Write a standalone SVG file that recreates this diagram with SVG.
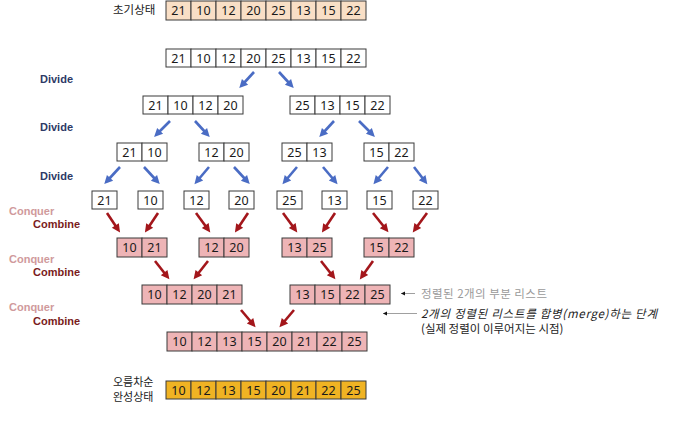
<svg xmlns="http://www.w3.org/2000/svg" width="675" height="421" viewBox="0 0 675 421">
<style>
  .c { stroke: #3a3a3a; stroke-width: 1; }
  .w { fill: #ffffff; }
  .p { fill: #f9dfc6; }
  .k { fill: #eeb4b6; }
  .y { fill: #f0b323; }
  .n { font-family: "Noto Sans", "Noto Sans CJK KR", sans-serif; font-size: 12.5px; fill: #1a1a1a; text-anchor: middle; }
  .lab { font-family: "Liberation Sans", Arial, sans-serif; font-size: 11px; font-weight: bold; }
  .dv { fill: #2d3a66; }
  .cq { fill: #d09a9c; }
  .cb { fill: #7a1c1c; }
  .ko { font-family: "Noto Sans CJK KR", sans-serif; font-size: 11.5px; fill: #222; }
  .ks { font-family: "Noto Sans CJK KR", sans-serif; font-size: 11px; fill: #222; }
  .ba { stroke: #4a6cc4; stroke-width: 2.6; fill: none; marker-end: url(#hb); }
  .ra { stroke: #a3161b; stroke-width: 2.6; fill: none; marker-end: url(#hr); }
  .ta { stroke: #888; stroke-width: 0.8; fill: none; marker-end: url(#ht); }
</style>
<defs>
  <marker id="hb" markerUnits="userSpaceOnUse" markerWidth="10" markerHeight="10" viewBox="0 -5 9 10" refX="3" refY="0" orient="auto">
    <path d="M0,-4.2 L8.5,0 L0,4.2 z" fill="#4a6cc4"/>
  </marker>
  <marker id="hr" markerUnits="userSpaceOnUse" markerWidth="10" markerHeight="10" viewBox="0 -5 9 10" refX="3" refY="0" orient="auto">
    <path d="M0,-4.2 L8.5,0 L0,4.2 z" fill="#a3161b"/>
  </marker>
  <marker id="ht" markerUnits="userSpaceOnUse" markerWidth="6" markerHeight="6" viewBox="0 -3 5 6" refX="4" refY="0" orient="auto">
    <path d="M0,-2 L4,0 L0,2 z" fill="#111"/>
  </marker>
</defs>

<!-- labels -->
<g id="labels">
  <text class="ko" x="113" y="14">초기상태</text>
  <text class="ks" x="113" y="385.5">오름차순</text>
  <text class="ks" x="113" y="400.5">완성상태</text>
  <text class="lab dv" x="40" y="83">Divide</text>
  <text class="lab dv" x="40" y="131">Divide</text>
  <text class="lab dv" x="40" y="180">Divide</text>
  <text class="lab cq" x="9" y="215">Conquer</text>
  <text class="lab cb" x="33" y="228">Combine</text>
  <text class="lab cq" x="9" y="263">Conquer</text>
  <text class="lab cb" x="33" y="276">Combine</text>
  <text class="lab cq" x="9" y="311">Conquer</text>
  <text class="lab cb" x="33" y="325">Combine</text>
</g>

<g id="initial">
  <rect class="c p" x="166" y="1" width="25" height="19"/><rect class="c p" x="191" y="1" width="25" height="19"/><rect class="c p" x="216" y="1" width="25" height="19"/><rect class="c p" x="241" y="1" width="25" height="19"/><rect class="c p" x="266" y="1" width="25" height="19"/><rect class="c p" x="291" y="1" width="25" height="19"/><rect class="c p" x="316" y="1" width="25" height="19"/><rect class="c p" x="341" y="1" width="25" height="19"/>
  <text class="n" x="178.5" y="15">21</text><text class="n" x="203.5" y="15">10</text><text class="n" x="228.5" y="15">12</text><text class="n" x="253.5" y="15">20</text><text class="n" x="278.5" y="15">25</text><text class="n" x="303.5" y="15">13</text><text class="n" x="328.5" y="15">15</text><text class="n" x="353.5" y="15">22</text>
</g>

<g id="list8">
  <rect class="c w" x="166" y="49" width="25" height="18"/><rect class="c w" x="191" y="49" width="25" height="18"/><rect class="c w" x="216" y="49" width="25" height="18"/><rect class="c w" x="241" y="49" width="25" height="18"/><rect class="c w" x="266" y="49" width="25" height="18"/><rect class="c w" x="291" y="49" width="25" height="18"/><rect class="c w" x="316" y="49" width="25" height="18"/><rect class="c w" x="341" y="49" width="25" height="18"/>
  <text class="n" x="178.5" y="62.5">21</text><text class="n" x="203.5" y="62.5">10</text><text class="n" x="228.5" y="62.5">12</text><text class="n" x="253.5" y="62.5">20</text><text class="n" x="278.5" y="62.5">25</text><text class="n" x="303.5" y="62.5">13</text><text class="n" x="328.5" y="62.5">15</text><text class="n" x="353.5" y="62.5">22</text>
</g>

<g id="list4a">
  <rect class="c w" x="143" y="96" width="25" height="18"/><rect class="c w" x="168" y="96" width="25" height="18"/><rect class="c w" x="193" y="96" width="25" height="18"/><rect class="c w" x="218" y="96" width="25" height="18"/>
  <text class="n" x="155.5" y="109.5">21</text><text class="n" x="180.5" y="109.5">10</text><text class="n" x="205.5" y="109.5">12</text><text class="n" x="230.5" y="109.5">20</text>
</g>
<g id="list4b">
  <rect class="c w" x="290" y="96" width="25" height="18"/><rect class="c w" x="315" y="96" width="25" height="18"/><rect class="c w" x="340" y="96" width="25" height="18"/><rect class="c w" x="365" y="96" width="25" height="18"/>
  <text class="n" x="302.5" y="109.5">25</text><text class="n" x="327.5" y="109.5">13</text><text class="n" x="352.5" y="109.5">15</text><text class="n" x="377.5" y="109.5">22</text>
</g>

<g id="list2a">
  <rect class="c w" x="117" y="143" width="25" height="18"/><rect class="c w" x="142" y="143" width="25" height="18"/>
  <text class="n" x="129.5" y="156.5">21</text><text class="n" x="154.5" y="156.5">10</text>
</g>
<g id="list2b">
  <rect class="c w" x="199" y="143" width="25" height="18"/><rect class="c w" x="224" y="143" width="25" height="18"/>
  <text class="n" x="211.5" y="156.5">12</text><text class="n" x="236.5" y="156.5">20</text>
</g>
<g id="list2c">
  <rect class="c w" x="282" y="143" width="25" height="18"/><rect class="c w" x="307" y="143" width="25" height="18"/>
  <text class="n" x="294.5" y="156.5">25</text><text class="n" x="319.5" y="156.5">13</text>
</g>
<g id="list2d">
  <rect class="c w" x="364" y="143" width="25" height="18"/><rect class="c w" x="389" y="143" width="25" height="18"/>
  <text class="n" x="376.5" y="156.5">15</text><text class="n" x="401.5" y="156.5">22</text>
</g>

<g id="single1"><rect class="c w" x="92" y="191" width="25" height="18"/><text class="n" x="104.5" y="204.5">21</text></g>
<g id="single2"><rect class="c w" x="138" y="191" width="25" height="18"/><text class="n" x="150.5" y="204.5">10</text></g>
<g id="single3"><rect class="c w" x="184" y="191" width="25" height="18"/><text class="n" x="196.5" y="204.5">12</text></g>
<g id="single4"><rect class="c w" x="229" y="191" width="25" height="18"/><text class="n" x="241.5" y="204.5">20</text></g>
<g id="single5"><rect class="c w" x="277" y="191" width="25" height="18"/><text class="n" x="289.5" y="204.5">25</text></g>
<g id="single6"><rect class="c w" x="322" y="191" width="25" height="18"/><text class="n" x="334.5" y="204.5">13</text></g>
<g id="single7"><rect class="c w" x="367" y="191" width="25" height="18"/><text class="n" x="379.5" y="204.5">15</text></g>
<g id="single8"><rect class="c w" x="413" y="191" width="25" height="18"/><text class="n" x="425.5" y="204.5">22</text></g>

<g id="merge2a">
  <rect class="c k" x="117" y="238" width="25" height="19"/><rect class="c k" x="142" y="238" width="25" height="19"/>
  <text class="n" x="129.5" y="252">10</text><text class="n" x="154.5" y="252">21</text>
</g>
<g id="merge2b">
  <rect class="c k" x="199" y="238" width="25" height="19"/><rect class="c k" x="224" y="238" width="25" height="19"/>
  <text class="n" x="211.5" y="252">12</text><text class="n" x="236.5" y="252">20</text>
</g>
<g id="merge2c">
  <rect class="c k" x="282" y="238" width="25" height="19"/><rect class="c k" x="307" y="238" width="25" height="19"/>
  <text class="n" x="294.5" y="252">13</text><text class="n" x="319.5" y="252">25</text>
</g>
<g id="merge2d">
  <rect class="c k" x="364" y="238" width="25" height="19"/><rect class="c k" x="389" y="238" width="25" height="19"/>
  <text class="n" x="376.5" y="252">15</text><text class="n" x="401.5" y="252">22</text>
</g>

<g id="merge4a">
  <rect class="c k" x="142" y="285" width="25" height="19"/><rect class="c k" x="167" y="285" width="25" height="19"/><rect class="c k" x="192" y="285" width="25" height="19"/><rect class="c k" x="217" y="285" width="25" height="19"/>
  <text class="n" x="154.5" y="299">10</text><text class="n" x="179.5" y="299">12</text><text class="n" x="204.5" y="299">20</text><text class="n" x="229.5" y="299">21</text>
</g>
<g id="merge4b">
  <rect class="c k" x="290" y="285" width="25" height="19"/><rect class="c k" x="315" y="285" width="25" height="19"/><rect class="c k" x="340" y="285" width="25" height="19"/><rect class="c k" x="365" y="285" width="25" height="19"/>
  <text class="n" x="302.5" y="299">13</text><text class="n" x="327.5" y="299">15</text><text class="n" x="352.5" y="299">22</text><text class="n" x="377.5" y="299">25</text>
</g>

<g id="merge8">
  <rect class="c k" x="167" y="332" width="25" height="19"/><rect class="c k" x="192" y="332" width="25" height="19"/><rect class="c k" x="217" y="332" width="25" height="19"/><rect class="c k" x="242" y="332" width="25" height="19"/><rect class="c k" x="267" y="332" width="25" height="19"/><rect class="c k" x="292" y="332" width="25" height="19"/><rect class="c k" x="317" y="332" width="25" height="19"/><rect class="c k" x="342" y="332" width="25" height="19"/>
  <text class="n" x="179.5" y="346">10</text><text class="n" x="204.5" y="346">12</text><text class="n" x="229.5" y="346">13</text><text class="n" x="254.5" y="346">15</text><text class="n" x="279.5" y="346">20</text><text class="n" x="304.5" y="346">21</text><text class="n" x="329.5" y="346">22</text><text class="n" x="354.5" y="346">25</text>
</g>

<g id="final">
  <rect class="c y" x="166" y="381" width="25" height="18"/><rect class="c y" x="191" y="381" width="25" height="18"/><rect class="c y" x="216" y="381" width="25" height="18"/><rect class="c y" x="241" y="381" width="25" height="18"/><rect class="c y" x="266" y="381" width="25" height="18"/><rect class="c y" x="291" y="381" width="25" height="18"/><rect class="c y" x="316" y="381" width="25" height="18"/><rect class="c y" x="341" y="381" width="25" height="18"/>
  <text class="n" x="178.5" y="394.5">10</text><text class="n" x="203.5" y="394.5">12</text><text class="n" x="228.5" y="394.5">13</text><text class="n" x="253.5" y="394.5">15</text><text class="n" x="278.5" y="394.5">20</text><text class="n" x="303.5" y="394.5">21</text><text class="n" x="328.5" y="394.5">22</text><text class="n" x="353.5" y="394.5">25</text>
</g>

<g id="connectors">
  <line class="ba" x1="254" y1="72" x2="243" y2="84"/>
  <line class="ba" x1="279" y1="72" x2="290" y2="84"/>
  <line class="ba" x1="170" y1="121" x2="158" y2="133"/>
  <line class="ba" x1="195" y1="121" x2="206" y2="133"/>
  <line class="ba" x1="334" y1="121" x2="323" y2="133"/>
  <line class="ba" x1="359" y1="121" x2="371" y2="133"/>
  <line class="ba" x1="120" y1="167" x2="108" y2="180"/>
  <line class="ba" x1="144" y1="167" x2="156" y2="180"/>
  <line class="ba" x1="209" y1="167" x2="198" y2="180"/>
  <line class="ba" x1="234" y1="167" x2="246" y2="180"/>
  <line class="ba" x1="297" y1="167" x2="286" y2="180"/>
  <line class="ba" x1="323" y1="167" x2="334" y2="180"/>
  <line class="ba" x1="388" y1="167" x2="377" y2="180"/>
  <line class="ba" x1="414" y1="167" x2="424" y2="180"/>

  <line class="ra" x1="107" y1="213" x2="117" y2="228"/>
  <line class="ra" x1="158" y1="213" x2="148" y2="228"/>
  <line class="ra" x1="196" y1="213" x2="207" y2="228"/>
  <line class="ra" x1="248" y1="213" x2="238" y2="228"/>
  <line class="ra" x1="283" y1="213" x2="294" y2="228"/>
  <line class="ra" x1="335" y1="213" x2="325" y2="228"/>
  <line class="ra" x1="373" y1="213" x2="385" y2="228"/>
  <line class="ra" x1="427" y1="213" x2="416" y2="228"/>
  <line class="ra" x1="155" y1="261" x2="166" y2="275"/>
  <line class="ra" x1="208" y1="261" x2="197" y2="275"/>
  <line class="ra" x1="321" y1="261" x2="332" y2="275"/>
  <line class="ra" x1="373" y1="261" x2="363" y2="275"/>
  <line class="ra" x1="241" y1="310" x2="252" y2="323"/>
  <line class="ra" x1="294" y1="310" x2="283" y2="323"/>

  <line class="ta" x1="415" y1="293.5" x2="401" y2="293.5"/>
  <line class="ta" x1="417" y1="313.5" x2="383" y2="313.5"/>
</g>

<g id="notes">
  <text class="ko" x="421" y="297.5" style="fill:#9a9a9a" textLength="126" lengthAdjust="spacing">정렬된 2개의 부분 리스트</text>
  <text class="ko" x="421" y="317.5" style="font-style:italic" textLength="236" lengthAdjust="spacing">2개의 정렬된 리스트를 합병(merge)하는 단계</text>
  <text class="ko" x="421" y="332.5">(실제 정렬이 이루어지는 시점)</text>
</g>
</svg>
